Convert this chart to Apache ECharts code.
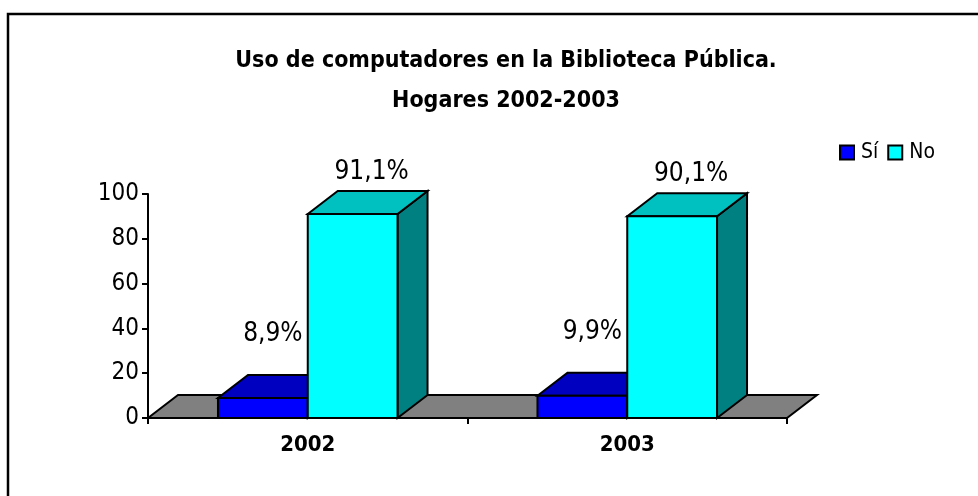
<!DOCTYPE html>
<html>
<head>
<meta charset="utf-8">
<script src="https://cdn.jsdelivr.net/npm/echarts@6/dist/echarts.min.js"></script>
<style>
  html, body { margin: 0; padding: 0; background: #fff; }
  #chart { width: 978px; height: 496px; }
</style>
</head>
<body>
<div id="chart"></div>
<script>
var categories = ['2002', '2003']
var siValues = [8.9, 9.9]
var noValues = [91.1, 90.1]
var yTicks = { min: 0, max: 100, interval: 20 }

var FONT = "'Liberation Sans Narrow', 'Arial Narrow', 'DejaVu Sans Condensed', sans-serif"
var DX = 30, DY = -23

function fmt(v) {
    return v.toFixed(1).replace('.', ',') + '%'
}

function barRender(colors, left) {
    return function (params, api) {
        var idx = api.value(0)
        var val = api.value(1)
        var base = api.coord([idx, 0])
        var top = api.coord([idx, val])
        var band = api.size([1, 0])[0]
        var w = band * 0.281
        var x0 = left ? base[0] - w : base[0]
        var x1 = x0 + w
        var yb = base[1], yt = top[1]
        var line = { stroke: '#000', lineWidth: 2 }
        var kids = [
            { type: 'polygon', shape: { points: [[x1, yb], [x1, yt], [x1 + DX, yt + DY], [x1 + DX, yb + DY]] },
              style: Object.assign({ fill: colors[2] }, line) },
            { type: 'polygon', shape: { points: [[x0, yt], [x0 + DX, yt + DY], [x1 + DX, yt + DY], [x1, yt]] },
              style: Object.assign({ fill: colors[1] }, line) },
            { type: 'rect', shape: { x: x0, y: yt, width: w, height: yb - yt },
              style: Object.assign({ fill: colors[0] }, line) }
        ]
        var lx = (x0 + x1 + DX) / 2
        if (left) {
            kids.push({ type: 'text', x: lx - 5, y: yt + DY - 41,
                style: { text: fmt(val), font: '26px ' + FONT, fill: '#000', align: 'center', verticalAlign: 'middle' } })
        } else {
            kids.push({ type: 'text', x: lx + 4, y: yt + DY - 6,
                style: { text: fmt(val), font: '26px ' + FONT, fill: '#000', align: 'center', verticalAlign: 'bottom' } })
        }
        return { type: 'group', children: kids }
    }
}

var chart = echarts.init(document.getElementById('chart'))

var option = {
    backgroundColor: '#fff',
    animation: false,
    graphic: [{
        type: 'rect', shape: { x: 8, y: 14, width: 1200, height: 1000 },
        style: { fill: 'none', stroke: '#000', lineWidth: 2.5 }, z: -10
    }],
    title: {
        text: 'Uso de computadores en la Biblioteca Pública.\nHogares 2002-2003',
        left: 501, top: 36, textAlign: 'center',
        textStyle: { fontFamily: FONT, fontWeight: 'bold', fontSize: 23, lineHeight: 40, color: '#000' }
    },
    legend: {
        data: ['Sí', 'No'],
        left: 839, top: 142, padding: 0,
        itemWidth: 14, itemHeight: 14, itemGap: 9, icon: 'rect',
        textStyle: { fontFamily: FONT, fontSize: 21, color: '#000', padding: [0, 0, 0, 2] }
    },
    grid: { left: 148, right: 191, top: 194, bottom: 78 },
    xAxis: {
        type: 'category', data: categories,
        axisLine: { lineStyle: { color: '#000', width: 2 } },
        axisTick: { show: true, length: 6, lineStyle: { color: '#000', width: 2 } },
        axisLabel: { fontFamily: FONT, fontWeight: 'bold', fontSize: 22, color: '#000', margin: 16 }
    },
    yAxis: {
        type: 'value', min: yTicks.min, max: yTicks.max, interval: yTicks.interval,
        axisLine: { show: true, lineStyle: { color: '#000', width: 2 } },
        axisTick: { show: true, length: 6, lineStyle: { color: '#000', width: 2 } },
        axisLabel: { fontFamily: FONT, fontSize: 24, color: '#000', margin: 9 },
        splitLine: { show: false }
    },
    series: [
        {
            name: 'floor', type: 'custom', z: 1, silent: true,
            data: [[0]],
            renderItem: function (params, api) {
                var cs = params.coordSys
                var yb = cs.y + cs.height
                var x0 = cs.x, x1 = cs.x + cs.width
                return {
                    type: 'polygon',
                    shape: { points: [[x0, yb], [x0 + DX, yb + DY], [x1 + DX, yb + DY], [x1, yb]] },
                    style: { fill: '#808080', stroke: '#000', lineWidth: 2 }
                }
            }
        },
        {
            name: 'Sí', type: 'custom', z: 3,
            itemStyle: { color: '#0000FF', borderColor: '#000', borderWidth: 2 },
            data: siValues.map(function (v, i) { return [i, v] }),
            renderItem: barRender(['#0000FF', '#0000C0', '#000080'], true)
        },
        {
            name: 'No', type: 'custom', z: 4,
            itemStyle: { color: '#00FFFF', borderColor: '#000', borderWidth: 2 },
            data: noValues.map(function (v, i) { return [i, v] }),
            renderItem: barRender(['#00FFFF', '#00C0C0', '#008080'], false)
        }
    ]
}

chart.setOption(option)
</script>
</body>
</html>
